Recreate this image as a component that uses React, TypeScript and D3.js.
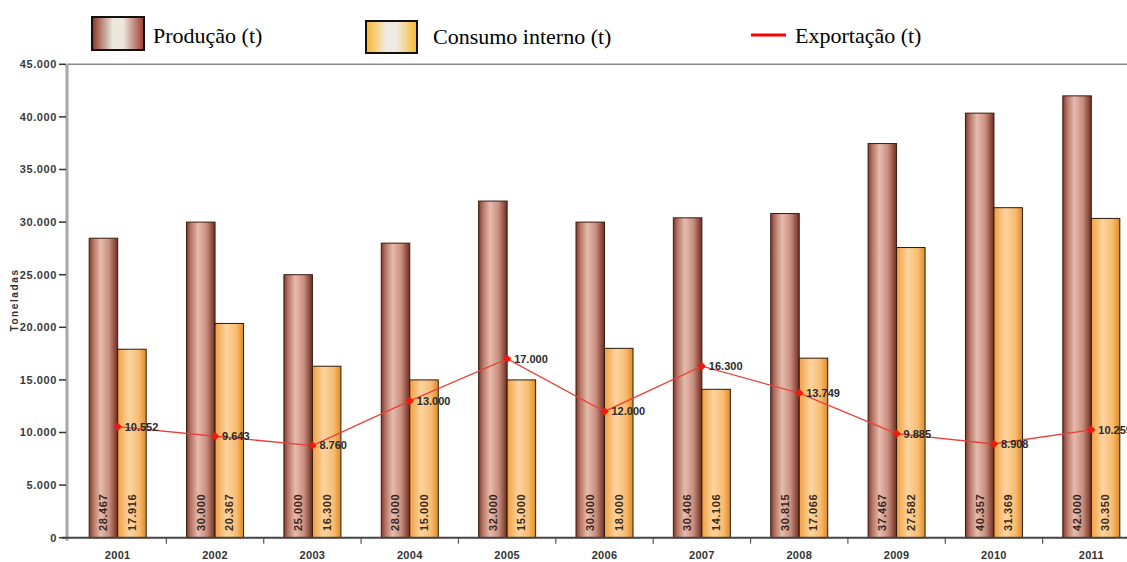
import React from "react";
import * as d3 from "d3";

// Anual series (toneladas)
const years = ["2001", "2002", "2003", "2004", "2005", "2006", "2007", "2008", "2009", "2010", "2011"];
const producao = [28467, 30000, 25000, 28000, 32000, 30000, 30406, 30815, 37467, 40357, 42000];
const consumo = [17916, 20367, 16300, 15000, 15000, 18000, 14106, 17066, 27582, 31369, 30350];
const exportacao = [10552, 9643, 8760, 13000, 17000, 12000, 16300, 13749, 9885, 8908, 10259];
const yTicks = [0, 5000, 10000, 15000, 20000, 25000, 30000, 35000, 40000, 45000];

const W = 1127;
const H = 562;

const fmt = d3.formatLocale({ decimal: ",", thousands: ".", grouping: [3], currency: ["", ""] }).format(",d");

export default function App() {
  const y = d3.scaleLinear().domain([0, 45000]).range([537.7, 64.3]);
  const x0 = d3.scaleBand<string>().domain(years).range([69, 1140]).padding(0);
  const x1 = d3.scaleBand<string>().domain(["p", "c"]).range([0, x0.bandwidth()]).paddingInner(0).paddingOuter(0.708);
  const bw = x1.bandwidth();
  const cx = (i: number) => (x0(years[i]) as number) + x0.bandwidth() / 2;

  const line = d3
    .line<number>()
    .x((_, i) => cx(i))
    .y((d) => y(d));

  const sans = "'Liberation Sans', Arial, sans-serif";
  const serif = "'Liberation Serif', 'Times New Roman', serif";

  return (
    <div style={{ position: "fixed", left: 0, top: 0, width: W, height: H, background: "#fff" }}>
      <svg width={W} height={H} style={{ display: "block" }}>
        <defs>
          <linearGradient id="gProd" x1="0" x2="1" y1="0" y2="0">
            <stop offset="0" stopColor="#7e3b2c" />
            <stop offset="0.15" stopColor="#b57565" />
            <stop offset="0.4" stopColor="#e6bcae" />
            <stop offset="0.7" stopColor="#c98e7e" />
            <stop offset="1" stopColor="#6e2c1f" />
          </linearGradient>
          <linearGradient id="gCons" x1="0" x2="1" y1="0" y2="0">
            <stop offset="0" stopColor="#f0a040" />
            <stop offset="0.4" stopColor="#fdd4a0" />
            <stop offset="0.75" stopColor="#f8bc70" />
            <stop offset="1" stopColor="#e08a25" />
          </linearGradient>
          <linearGradient id="gLegProd" x1="0" x2="1" y1="0" y2="0">
            <stop offset="0" stopColor="#8c3323" />
            <stop offset="0.4" stopColor="#ece8de" />
            <stop offset="0.6" stopColor="#ece8de" />
            <stop offset="1" stopColor="#9c3b2a" />
          </linearGradient>
          <linearGradient id="gLegCons" x1="0" x2="1" y1="0" y2="0">
            <stop offset="0" stopColor="#fbb62a" />
            <stop offset="0.4" stopColor="#efebe2" />
            <stop offset="0.6" stopColor="#efebe2" />
            <stop offset="1" stopColor="#fbb62a" />
          </linearGradient>
        </defs>

        {/* Legend */}
        <g>
          <rect x={92} y={17} width={52} height={33} fill="url(#gLegProd)" stroke="#111" strokeWidth={2} />
          <text x={153} y={43} fontFamily={serif} fontSize={22} fill="#000">Produção (t)</text>
          <rect x={366} y={21} width={51} height={32} fill="url(#gLegCons)" stroke="#111" strokeWidth={2} />
          <text x={433} y={44} fontFamily={serif} fontSize={22} fill="#000">Consumo interno (t)</text>
          <line x1={751} x2={786} y1={35} y2={35} stroke="#f00" strokeWidth={3} />
          <text x={795} y={43} fontFamily={serif} fontSize={22} fill="#000">Exportação (t)</text>
        </g>

        {/* Top frame line */}
        <line x1={67} x2={W} y1={y(45000)} y2={y(45000)} stroke="#8a8a8a" strokeWidth={1.5} />

        {/* Y axis */}
        <line x1={67} x2={67} y1={y(45000)} y2={y(0) + 3} stroke="#a8a8a8" strokeWidth={3} />
        {yTicks.map((t) => (
          <g key={t}>
            <line x1={59} x2={66} y1={y(t)} y2={y(t)} stroke="#333" strokeWidth={1.5} />
            <text
              x={57}
              y={y(t)}
              dy="0.35em"
              textAnchor="end"
              fontFamily={sans}
              fontSize={11}
              fontWeight="bold"
              letterSpacing={0.6}
              fill="#3a3a3a"
            >
              {fmt(t)}
            </text>
          </g>
        ))}
        <text
          transform={`translate(18,${300}) rotate(-90)`}
          textAnchor="middle"
          fontFamily={sans}
          fontSize={10}
          fontWeight="bold"
          letterSpacing={1.6}
          fill="#333"
        >
          Toneladas
        </text>

        {/* Bars */}
        {years.map((yr, i) => {
          const bx = x0(yr) as number;
          const px = bx + (x1("p") as number);
          const cxx = bx + (x1("c") as number);
          return (
            <g key={yr}>
              <rect x={px} y={y(producao[i])} width={bw} height={y(0) - y(producao[i])} fill="url(#gProd)" stroke="#3a1a12" strokeWidth={1} />
              <rect x={cxx} y={y(consumo[i])} width={bw} height={y(0) - y(consumo[i])} fill="url(#gCons)" stroke="#2a1a0a" strokeWidth={1} />
              <text
                transform={`translate(${px + bw / 2},${531}) rotate(-90)`}
                dy="0.35em"
                fontFamily={sans}
                fontSize={11}
                fontWeight="bold"
                letterSpacing={0.6}
                fill="#3a2620"
              >
                {fmt(producao[i])}
              </text>
              <text
                transform={`translate(${cxx + bw / 2},${531}) rotate(-90)`}
                dy="0.35em"
                fontFamily={sans}
                fontSize={11}
                fontWeight="bold"
                letterSpacing={0.6}
                fill="#3a2a1a"
              >
                {fmt(consumo[i])}
              </text>
            </g>
          );
        })}

        {/* X axis */}
        <line x1={62} x2={W} y1={y(0)} y2={y(0)} stroke="#444" strokeWidth={2} />
        {years.slice(1).map((yr) => (
          <line key={yr} x1={x0(yr) as number} x2={x0(yr) as number} y1={y(0)} y2={y(0) + 6} stroke="#555" strokeWidth={1.2} />
        ))}
        {years.map((yr, i) => (
          <text key={yr} x={cx(i)} y={559} textAnchor="middle" fontFamily={sans} fontSize={11} fontWeight="bold" letterSpacing={0.3} fill="#333">
            {yr}
          </text>
        ))}

        {/* Export line */}
        <path d={line(exportacao) as string} fill="none" stroke="#e8403a" strokeWidth={1.3} />
        {exportacao.map((v, i) => (
          <g key={i}>
            <rect x={cx(i) - 3} y={y(v) - 3} width={6} height={6} fill="#ee1a10" transform={`rotate(45,${cx(i)},${y(v)})`} />
            <text x={cx(i) + 7} y={y(v)} dy="0.35em" fontFamily={sans} fontSize={11} fontWeight="bold" fill="#2a2a2a">
              {fmt(v)}
            </text>
          </g>
        ))}
      </svg>
    </div>
  );
}
